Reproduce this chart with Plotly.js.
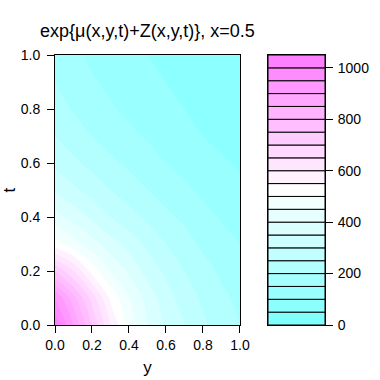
<!DOCTYPE html>
<html>
<head>
<meta charset="utf-8">
<script src="https://cdn.plot.ly/plotly-3.0.1.min.js"></script>
<style>
  html, body { margin: 0; padding: 0; background: #fff; }
  #chart { width: 380px; height: 380px; }
</style>
</head>
<body>
<div id="chart"></div>
<script>
// grid: y across, t up
var yVals = [0, 0.1, 0.2, 0.3, 0.4, 0.5, 0.6, 0.7, 0.8, 0.9, 1.0];
var tVals = [0, 0.1, 0.2, 0.3, 0.4, 0.5, 0.6, 0.7, 0.8, 0.9, 1.0];
var field = [
  [1040, 900, 750, 600, 480, 400, 340, 300, 260, 230, 200],
  [950, 820, 680, 540, 450, 380, 320, 280, 240, 210, 190],
  [750, 650, 530, 450, 390, 330, 290, 250, 220, 190, 170],
  [520, 470, 420, 370, 330, 290, 250, 220, 190, 170, 150],
  [420, 380, 340, 300, 270, 240, 210, 190, 165, 145, 130],
  [340, 310, 280, 250, 225, 200, 180, 160, 140, 125, 110],
  [290, 260, 235, 210, 190, 170, 150, 135, 120, 105, 95],
  [250, 225, 200, 180, 160, 145, 130, 115, 100, 90, 80],
  [220, 195, 175, 155, 140, 125, 110, 100, 90, 80, 70],
  [200, 175, 155, 140, 125, 110, 100, 90, 80, 70, 65],
  [185, 160, 140, 125, 110, 100, 90, 80, 70, 65, 60]
];

// key levels: 0, 50, ..., 1050
var levelStart = 0, levelStep = 50, nBands = 21;
var keyTicks = [0, 200, 400, 600, 800, 1000];

// R's cm.colors(n)
function cmColors(n) {
  var k = Math.floor(n / 2), out = [];
  for (var i = 0; i <= k; i++) {
    var s = 0.5 - 0.5 * i / k;
    var c = Math.round(255 * (1 - s));
    out.push('rgb(' + c + ',255,255)');
  }
  for (var j = 1; j < n - k; j++) {
    var s2 = 0.5 * j / (n - k - 1);
    var g = Math.round(255 * (1 - s2));
    out.push('rgb(255,' + g + ',255)');
  }
  return out;
}

var cols = cmColors(nBands);
var cscale = cols.map(function (c, i) { return [i / (nBands - 1), c]; });

var bandBase = [], bandH = [], bandX = [];
for (var i = 0; i < nBands; i++) {
  bandBase.push(levelStart + i * levelStep);
  bandH.push(levelStep);
  bandX.push(0);
}

var data = [{
  type: 'contour',
  x: yVals,
  y: tVals,
  z: field,
  autocontour: false,
  contours: { start: levelStart + levelStep, end: levelStart + (nBands - 1) * levelStep, size: levelStep, coloring: 'fill' },
  colorscale: cscale,
  line: { width: 0, smoothing: 1 },
  showscale: false,
  hoverinfo: 'skip'
}, {
  type: 'bar',
  x: bandX,
  y: bandH,
  base: bandBase,
  width: 1,
  xaxis: 'x2',
  yaxis: 'y2',
  marker: { color: cols, line: { color: '#000', width: 1 } },
  showlegend: false,
  hoverinfo: 'skip'
}];

var fam = 'Liberation Sans, Arial, sans-serif';
var axFont = { family: fam, size: 14, color: '#000' };

var layout = {
  width: 380,
  height: 380,
  margin: { l: 55, r: 55, t: 55, b: 55 },
  paper_bgcolor: '#fff',
  plot_bgcolor: '#fff',
  font: axFont,
  showlegend: false,
  title: {
    text: 'exp{\u03bc(x,y,t)+Z(x,y,t)}, x=0.5',
    font: { family: fam, size: 18, color: '#000' },
    xref: 'paper', x: 0.3425, xanchor: 'center',
    yref: 'container', y: 0.92, yanchor: 'middle'
  },
  xaxis: {
    domain: [0, 0.685],
    range: [0, 1],
    tickvals: [0, 0.2, 0.4, 0.6, 0.8, 1.0],
    tickformat: '.1f',
    ticks: 'outside', ticklen: 7, tickcolor: '#000',
    ticklabelstandoff: 0,
    showline: true, mirror: true, linecolor: '#000',
    showgrid: false, zeroline: false,
    title: { text: 'y', font: { size: 17 }, standoff: 9 }
  },
  yaxis: {
    domain: [0, 1],
    range: [0, 1],
    tickvals: [0, 0.2, 0.4, 0.6, 0.8, 1.0],
    tickformat: '.1f',
    ticks: 'outside', ticklen: 7, tickcolor: '#000',
    ticklabelstandoff: 4,
    showline: true, mirror: true, linecolor: '#000',
    showgrid: false, zeroline: false,
    title: { text: 't', font: { size: 17 }, standoff: 6 }
  },
  xaxis2: {
    domain: [0.789, 1],
    anchor: 'y2',
    range: [-0.5, 0.5],
    showticklabels: false, ticks: '',
    showline: true, mirror: true, linecolor: '#000',
    showgrid: false, zeroline: false
  },
  yaxis2: {
    domain: [0, 1],
    anchor: 'x2',
    side: 'right',
    range: [levelStart, levelStart + nBands * levelStep],
    tickvals: keyTicks,
    ticks: 'outside', ticklen: 7, tickcolor: '#000',
    ticklabelstandoff: 2,
    showline: true, mirror: true, linecolor: '#000',
    showgrid: false, zeroline: false
  }
};

Plotly.newPlot('chart', data, layout, { staticPlot: true });
</script>
</body>
</html>
